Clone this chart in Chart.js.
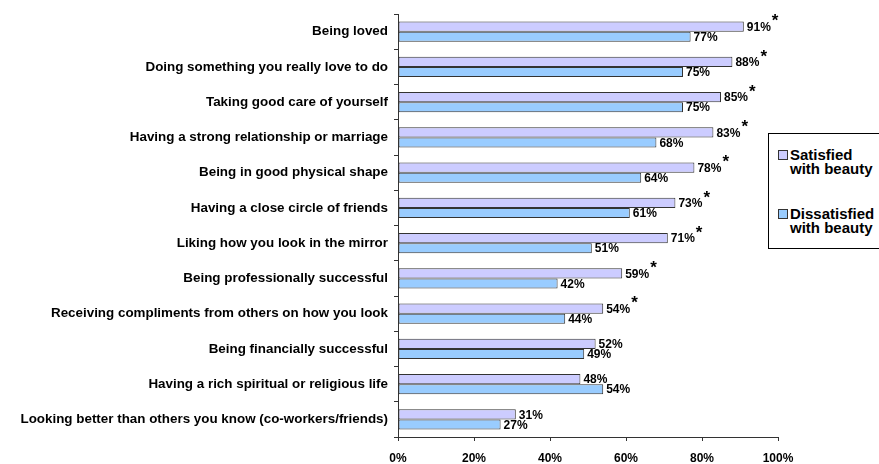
<!DOCTYPE html>
<html>
<head>
<meta charset="utf-8">
<script src="https://cdn.jsdelivr.net/npm/chart.js@4.4.1/dist/chart.umd.min.js"></script>
<style>
  html, body { margin: 0; padding: 0; background: #fff; overflow: hidden; }
  #wrap { position: relative; width: 879px; height: 464px; }
  #legende {
    position: absolute; left: 768px; top: 133px; width: 130px; height: 114px;
    border: 1px solid #000; background: #fff;
    font: bold 15px "Liberation Sans", Arial, sans-serif; color: #000;
  }
  .eintrag { position: absolute; left: 9px; line-height: 14px; }
  .eintrag .box {
    position: absolute; left: 0; top: 2px; width: 8px; height: 8px; border: 1px solid #333;
  }
  .eintrag .txt { position: absolute; left: 12px; white-space: nowrap; }
</style>
</head>
<body>
<div id="wrap">
  <canvas id="diagramm" width="879" height="464"></canvas>
  <div id="legende"></div>
</div>
<script>
// Kategorien und Werte (Prozent)
var kategorien = [
    "Being loved",
    "Doing something you really love to do",
    "Taking good care of yourself",
    "Having a strong relationship or marriage",
    "Being in good physical shape",
    "Having a close circle of friends",
    "Liking how you look in the mirror",
    "Being professionally successful",
    "Receiving compliments from others on how you look",
    "Being financially successful",
    "Having a rich spiritual or religious life",
    "Looking better than others you know (co-workers/friends)"
];
var zufrieden = [91, 88, 85, 83, 78, 73, 71, 59, 54, 52, 48, 31];
var unzufrieden = [77, 75, 75, 68, 64, 61, 51, 42, 44, 49, 54, 27];
// signifikante Unterschiede (Stern)
var signifikant = [true, true, true, true, true, true, true, true, true, false, false, false];
var xTicks = [0, 20, 40, 60, 80, 100];

var serien = [
    { name: ["Satisfied", "with beauty"], farbe: "#CCCCFF", daten: zufrieden },
    { name: ["Dissatisfied", "with beauty"], farbe: "#99CCFF", daten: unzufrieden }
];

var schrift = '"Liberation Sans", Arial, sans-serif';

// Beschriftung der Balken mit Prozentwert und Stern
var werteLabels = {
    id: 'werteLabels',
    afterDatasetsDraw: function(chart) {
        var ctx = chart.ctx;
        ctx.save();
        ctx.fillStyle = '#000';
        ctx.textBaseline = 'middle';
        ctx.textAlign = 'left';
        chart.data.datasets.forEach(function(ds, i) {
            var meta = chart.getDatasetMeta(i);
            meta.data.forEach(function(bar, j) {
                ctx.font = 'bold 12px ' + schrift;
                var text = ds.data[j] + '%';
                var x = bar.x + 3;
                ctx.fillText(text, x, bar.y + 1);
                if (i === 0 && signifikant[j]) {
                    var w = ctx.measureText(text).width;
                    ctx.font = 'bold 17px ' + schrift;
                    ctx.fillText('*', x + w + 1, bar.y - 5);
                }
            });
        });
        ctx.restore();
    }
};

var ctx = document.getElementById('diagramm').getContext('2d');
var diagramm = new Chart(ctx, {
    type: 'bar',
    data: {
        labels: kategorien,
        datasets: serien.map(function(s) {
            return {
                label: s.name.join(' '),
                data: s.daten,
                backgroundColor: s.farbe,
                borderColor: '#333333',
                borderWidth: 1,
                borderSkipped: false,
                categoryPercentage: 0.57,
                barPercentage: 1.0
            };
        })
    },
    options: {
        indexAxis: 'y',
        responsive: false,
        animation: false,
        layout: { padding: { top: 10, right: 101, left: 0, bottom: 0 } },
        plugins: {
            legend: { display: false },
            tooltip: { enabled: false }
        },
        scales: {
            x: {
                min: 0,
                max: 100,
                afterBuildTicks: function(axis) {
                    axis.ticks = xTicks.map(function(v) { return { value: v }; });
                },
                afterFit: function(axis) { axis.height = 27; },
                border: { color: '#333', width: 1 },
                grid: { drawOnChartArea: false, drawTicks: true, tickLength: 4, color: '#333' },
                ticks: {
                    color: '#000',
                    padding: 10,
                    font: { family: schrift, size: 12, weight: 'bold' },
                    callback: function(v) { return v + '%'; }
                }
            },
            y: {
                afterFit: function(axis) { axis.width = 398; },
                border: { color: '#333', width: 1 },
                grid: { drawOnChartArea: false, drawTicks: true, tickLength: 4, color: '#333', offset: true },
                ticks: {
                    color: '#000',
                    padding: 6,
                    autoSkip: false,
                    font: { family: schrift, size: 13.4, weight: 'bold' }
                }
            }
        }
    },
    plugins: [werteLabels]
});

// Legende
var legende = document.getElementById('legende');
serien.forEach(function(s, i) {
    var e = document.createElement('div');
    e.className = 'eintrag';
    e.style.top = (14 + i * 59) + 'px';
    var box = document.createElement('span');
    box.className = 'box';
    box.style.background = s.farbe;
    var txt = document.createElement('span');
    txt.className = 'txt';
    txt.innerHTML = s.name.join('<br>');
    e.appendChild(box);
    e.appendChild(txt);
    legende.appendChild(e);
});
</script>
</body>
</html>
